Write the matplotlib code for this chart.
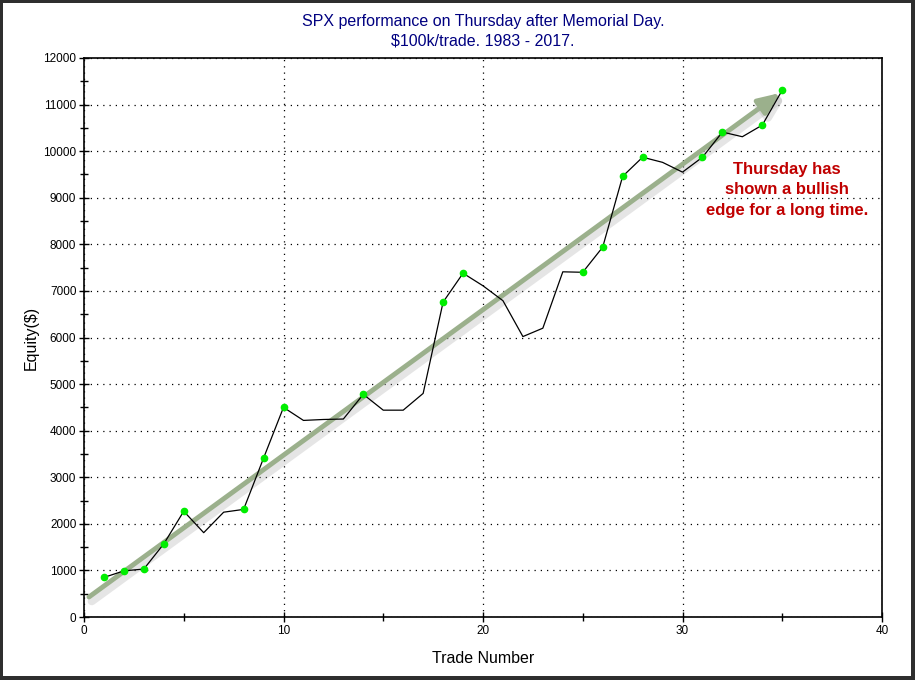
import numpy as np
import matplotlib
matplotlib.use('Agg')
import matplotlib.pyplot as plt
import matplotlib.patheffects as pe
from matplotlib.patches import Rectangle

plt.rcParams['font.family'] = ['Liberation Sans', 'DejaVu Sans']

trade = list(range(1, 36))
equity = [850, 990, 1030, 1570, 2270, 1810, 2250, 2310, 3410, 4500,
          4220, 4240, 4250, 4780, 4440, 4440, 4800, 6760, 7380, 7110,
          6790, 6020, 6200, 7410, 7400, 7940, 9460, 9870, 9760, 9550,
          9870, 10410, 10310, 10560, 11310]
marked = [1, 2, 3, 4, 5, 8, 9, 10, 14, 18, 19, 25, 26, 27, 28, 31, 32, 34, 35]

arrow_start = (0.25, 430)
arrow_end = (34.9, 11250)

fig = plt.figure(figsize=(9.15, 6.8), dpi=100)
fig.patch.set_facecolor('#2e2e2e')
fig.patches.append(Rectangle((3/915, 4/680), 908/915, 673/680, transform=fig.transFigure,
                             facecolor='white', edgecolor='none', zorder=-1))
ax = fig.add_axes([84/915, 63/680, 798/915, 559/680])

ax.plot(trade, equity, color='black', lw=0.9, zorder=3)
mx = [t for t in marked]
my = [equity[t - 1] for t in marked]
ax.plot(mx, my, 'o', color='#00ee00', ms=4.5, mec='#00ee00', zorder=4)

ax.annotate('', xy=arrow_end, xytext=arrow_start,
            arrowprops=dict(arrowstyle='-|>,head_length=1.3,head_width=0.55', color='#9bb08c', lw=3.5,
                            shrinkA=0, shrinkB=0,
                            path_effects=[pe.SimpleLineShadow(offset=(2, -3), shadow_color='#aaaaaa', alpha=0.3,
                                                              linewidth=6),
                                          pe.Normal()]),
            zorder=2)

ax.text(35.25, 9170, 'Thursday has\nshown a bullish\nedge for a long time.', color='#c00000',
        fontsize=12, fontweight='bold', ha='center', va='center', linespacing=1.45)

ax.set_xlim(0, 40)
ax.set_ylim(0, 12000)
ax.set_xticks(range(0, 41, 10))
ax.set_xticks(range(0, 41, 5), minor=True)
ax.set_yticks(range(0, 12001, 1000))
ax.set_yticks(range(0, 12001, 500), minor=True)
ax.tick_params(which='both', direction='inout', labelsize=8.5, width=1)
ax.tick_params(which='major', length=7, pad=2)
ax.tick_params(which='minor', length=6)
ax.grid(which='major', color='black', linestyle=(0, (1, 4)), lw=0.9)
for s in ax.spines.values():
    s.set_linewidth(1.2)

ax.set_xlabel('Trade Number', fontsize=11.5, labelpad=10)
ax.set_ylabel('Equity($)', fontsize=11.5, labelpad=3)
ax.set_title('SPX performance on Thursday after Memorial Day.\n$100k/trade. 1983 - 2017.',
             color='#000080', fontsize=11.5, pad=9, linespacing=1.35)

plt.savefig('out.png', dpi=100)
